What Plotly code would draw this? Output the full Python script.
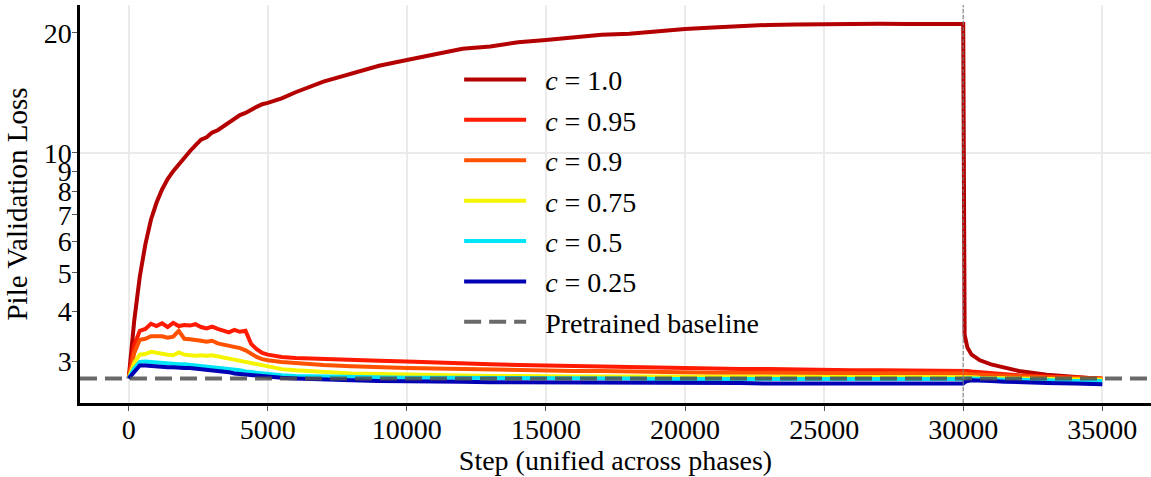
import math
import plotly.graph_objects as go

# ---------------- data ----------------
STEPS = [0, 200, 400, 600, 800, 1000, 1200, 1400, 1600, 1800, 2000, 2200, 2400,
         2600, 2800, 3000, 3200, 3400, 3600, 3800, 4000, 4200, 4400, 4600, 4800, 5000,
         5500, 6000,
         7000, 8000, 9000, 10000, 11000, 12000, 13000, 14000, 15000, 16000, 17000,
         18000, 19000, 20000, 21000, 22000, 23000, 24000, 25000, 26000, 27000, 28000,
         29000, 30000,
         30050, 30150, 30300, 30600, 31000, 31500, 32000, 33000, 34000, 35000]

LOSS_C100 = [2.72, 3.8, 4.9, 5.9, 6.8, 7.5, 8.1, 8.6, 9.0, 9.35, 9.8, 10.1, 10.45,
             10.8, 10.95, 11.25, 11.4, 11.65, 11.9, 12.15, 12.45, 12.6, 12.85, 13.05, 13.25, 13.35,
             13.7, 14.2,
             15.1, 15.85, 16.55, 17.1, 17.65, 18.25, 18.5, 18.95, 19.2, 19.45, 19.8, 19.9,
             20.2, 20.45, 20.65, 20.85, 20.95, 21.0, 21.05, 21.07, 21.08, 21.07, 21.07, 21.06,
             3.5, 3.25, 3.12, 3.02, 2.95, 2.89, 2.84, 2.78, 2.74, 2.71]

LOSS_C095 = [2.72, 3.3, 3.58, 3.62, 3.73, 3.68, 3.74, 3.66, 3.75, 3.68, 3.70, 3.69, 3.72,
             3.66, 3.63, 3.67, 3.62, 3.58, 3.55, 3.6, 3.56, 3.58, 3.32, 3.22, 3.15, 3.12,
             3.08, 3.06,
             3.04, 3.03, 3.01, 3.0, 2.98, 2.97, 2.95, 2.94, 2.93, 2.92, 2.91, 2.9,
             2.9, 2.89, 2.88, 2.87, 2.87, 2.86, 2.86, 2.85, 2.85, 2.85, 2.84, 2.84,
             2.85, 2.84, 2.83, 2.82, 2.80, 2.78, 2.77, 2.75, 2.73, 2.72]

LOSS_C090 = [2.72, 3.15, 3.40, 3.42, 3.47, 3.46, 3.47, 3.44, 3.46, 3.58, 3.42, 3.41, 3.40,
             3.38, 3.36, 3.38, 3.33, 3.31, 3.28, 3.27, 3.24, 3.2, 3.13, 3.08, 3.04, 3.02,
             2.99, 2.97,
             2.94, 2.92, 2.9, 2.89, 2.88, 2.87, 2.86, 2.85, 2.85, 2.84, 2.84, 2.83,
             2.83, 2.82, 2.81, 2.81, 2.81, 2.8, 2.8, 2.8, 2.8, 2.8, 2.8, 2.8,
             2.8, 2.79, 2.79, 2.78, 2.77, 2.76, 2.75, 2.74, 2.73, 2.72]

LOSS_C075 = [2.72, 2.98, 3.12, 3.13, 3.17, 3.15, 3.13, 3.12, 3.11, 3.16, 3.12, 3.11, 3.10,
             3.11, 3.10, 3.11, 3.09, 3.07, 3.05, 3.03, 3.01, 2.99, 2.97, 2.95, 2.92, 2.90,
             2.87, 2.85,
             2.82, 2.8, 2.79, 2.78, 2.77, 2.77, 2.76, 2.76, 2.75, 2.75, 2.75, 2.75,
             2.75, 2.75, 2.75, 2.75, 2.74, 2.74, 2.74, 2.74, 2.74, 2.74, 2.74, 2.74,
             2.75, 2.74, 2.74, 2.73, 2.73, 2.72, 2.72, 2.71, 2.70, 2.70]

LOSS_C050 = [2.72, 2.88, 2.99, 3.0, 2.99, 2.98, 2.97, 2.97, 2.96, 2.95, 2.95, 2.94, 2.93,
             2.93, 2.92, 2.91, 2.9, 2.89, 2.88, 2.86, 2.85, 2.83, 2.82, 2.81, 2.8, 2.79,
             2.77, 2.76,
             2.75, 2.74, 2.74, 2.73, 2.73, 2.73, 2.73, 2.72, 2.72, 2.72, 2.72, 2.72,
             2.71, 2.71, 2.71, 2.71, 2.71, 2.71, 2.71, 2.71, 2.7, 2.7, 2.7, 2.7,
             2.71, 2.72, 2.72, 2.71, 2.71, 2.70, 2.70, 2.69, 2.68, 2.68]

LOSS_C025 = [2.72, 2.83, 2.93, 2.93, 2.92, 2.91, 2.91, 2.90, 2.90, 2.89, 2.89, 2.89, 2.88,
             2.88, 2.87, 2.86, 2.85, 2.84, 2.82, 2.80, 2.79, 2.78, 2.77, 2.76, 2.75, 2.74,
             2.73, 2.72,
             2.70, 2.69, 2.68, 2.68, 2.67, 2.67, 2.66, 2.66, 2.66, 2.65, 2.65, 2.65,
             2.65, 2.65, 2.65, 2.65, 2.64, 2.64, 2.64, 2.64, 2.64, 2.64, 2.64, 2.64,
             2.66, 2.68, 2.69, 2.69, 2.68, 2.67, 2.66, 2.65, 2.64, 2.63]

SERIES_LABELS = ["1.0", "0.95", "0.9", "0.75", "0.5", "0.25"]
SERIES_VALUES = [LOSS_C100, LOSS_C095, LOSS_C090, LOSS_C075, LOSS_C050, LOSS_C025]
SERIES_COLORS = ["#b40000", "#ff1a00", "#ff5200", "#f5f500", "#00e4f8", "#0000b4"]

BASELINE_LOSS = 2.72
PHASE_BOUNDARY = 30000

X_TICKS = [0, 5000, 10000, 15000, 20000, 25000, 30000, 35000]
Y_TICKS = [3, 4, 5, 6, 7, 8, 9, 10, 20]
X_RANGE = [-1750, 36750]
Y_RANGE = [2.36, 23.5]

FONT = "Liberation Serif, Times New Roman, serif"
GAP = "&nbsp;&nbsp;"

# ---------------- figure ----------------
fig = go.Figure()

for i, (lab, vals, col) in enumerate(zip(SERIES_LABELS, SERIES_VALUES, SERIES_COLORS)):
    fig.add_trace(go.Scatter(
        x=STEPS, y=vals, mode="lines",
        name=f"{GAP}<i>c</i> = {lab}",
        line=dict(color=col, width=4),
        legendgroup=f"g{i}",
    ))

fig.add_trace(go.Scatter(
    x=X_RANGE, y=[BASELINE_LOSS, BASELINE_LOSS], mode="lines",
    name=f"{GAP}Pretrained baseline",
    line=dict(color="#505050", width=4, dash="17px,8px"),
    opacity=0.85,
    legendgroup="gb",
))

fig.add_vline(x=PHASE_BOUNDARY, line=dict(color="#808080", width=1, dash="4px,2px"),
              layer="above")

fig.update_layout(
    width=1151, height=477,
    margin=dict(l=80, r=0, t=5, b=74),
    paper_bgcolor="white", plot_bgcolor="white",
    font=dict(family=FONT, size=28, color="black"),
    showlegend=True,
    legend=dict(
        x=0.354, y=0.875, xanchor="left", yanchor="top",
        bgcolor="rgba(0,0,0,0)", borderwidth=0,
        font=dict(family=FONT, size=28, color="black"),
        tracegroupgap=1, itemwidth=62,
    ),
    xaxis=dict(
        range=X_RANGE, tickvals=X_TICKS, tickformat="d",
        showgrid=True, gridcolor="#ebebeb", gridwidth=2, zeroline=False,
        showline=True, linecolor="black", linewidth=2.5,
        ticks="outside", ticklen=5, tickcolor="#555", tickwidth=1,
        ticklabelstandoff=-5,
        tickfont=dict(family=FONT, size=28),
        title=dict(text="Step (unified across phases)", font=dict(family=FONT, size=28), standoff=0),
    ),
    yaxis=dict(
        type="log", range=[math.log10(Y_RANGE[0]), math.log10(Y_RANGE[1])],
        tickvals=Y_TICKS, ticktext=[str(v) for v in Y_TICKS],
        showgrid=False, zeroline=False,
        minor=dict(tickvals=[10], showgrid=True, gridcolor="#ebebeb", gridwidth=2, ticks=""),
        showline=True, linecolor="black", linewidth=2.5,
        ticks="outside", ticklen=5, tickcolor="#555", tickwidth=1,
        ticklabelstandoff=-5,
        tickfont=dict(family=FONT, size=28),
        title=dict(text="Pile Validation Loss", font=dict(family=FONT, size=29), standoff=8),
    ),
)

fig.write_html("out.html", config={"displayModeBar": False},
               post_script="document.body.style.margin='0';")
